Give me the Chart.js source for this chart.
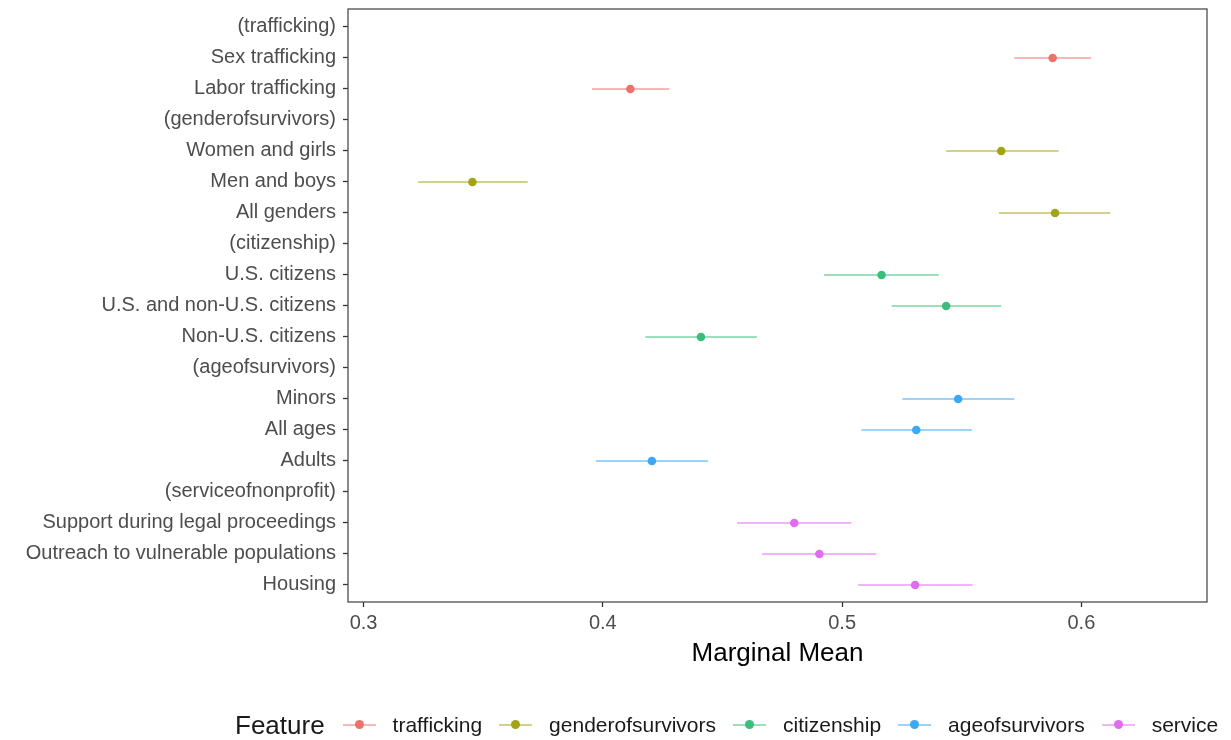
<!DOCTYPE html>
<html>
<head>
<meta charset="utf-8">
<script src="https://cdn.jsdelivr.net/npm/chart.js@4.4.1/dist/chart.umd.min.js"></script>
<style>
  body { margin: 0; background: #fff; }
  #wrap { position: relative; width: 1231px; height: 740px; }
  #legend {
    position: absolute; left: 235px; top: 707px; height: 36px;
    display: flex; align-items: center;
    font-family: "Liberation Sans", Arial, Helvetica, sans-serif; color: #1a1a1a;
  }
  #legend .title { font-size: 26px; margin-right: 18px; }
  #legend .key { position: relative; width: 33px; height: 20px; margin-right: 17px; }
  #legend .key .ln { position: absolute; left: 0; right: 0; top: 9px; height: 2px; opacity: 0.5; }
  #legend .key .dot { position: absolute; left: 12px; top: 5px; width: 9px; height: 9px; border-radius: 50%; }
  #legend .lab { font-size: 21px; margin-right: 17px; }
</style>
</head>
<body>
<div id="wrap">
  <canvas id="chart" width="1231" height="740"></canvas>
  <div id="legend"></div>
</div>
<script>
// Rows from top to bottom (attribute headers in brackets)
const categories = [
  '(trafficking)', 'Sex trafficking', 'Labor trafficking',
  '(genderofsurvivors)', 'Women and girls', 'Men and boys', 'All genders',
  '(citizenship)', 'U.S. citizens', 'U.S. and non-U.S. citizens', 'Non-U.S. citizens',
  '(ageofsurvivors)', 'Minors', 'All ages', 'Adults',
  '(serviceofnonprofit)', 'Support during legal proceedings', 'Outreach to vulnerable populations', 'Housing'
];
const features = ['trafficking', 'genderofsurvivors', 'citizenship', 'ageofsurvivors', 'service'];
const featureOf = [0, 0, 0, 1, 1, 1, 1, 2, 2, 2, 2, 3, 3, 3, 3, 4, 4, 4, 4];
const colors = ['#EE716B', '#A3A313', '#3BBD7B', '#3DA8F3', '#E06CF1'];

// marginal means and confidence bounds (null on header rows)
const estimates = [null, 0.588, 0.4115, null, 0.5665, 0.3455, 0.589, null, 0.5165, 0.5435, 0.441, null, 0.5485, 0.531, 0.4205, null, 0.480, 0.4905, 0.5305];
const lower =     [null, 0.572, 0.3955, null, 0.5435, 0.3228, 0.5655, null, 0.4925, 0.5207, 0.4178, null, 0.5252, 0.5081, 0.3971, null, 0.4561, 0.4665, 0.5067];
const upper =     [null, 0.604, 0.4278, null, 0.5905, 0.3686, 0.6121, null, 0.5404, 0.5665, 0.4644, null, 0.572, 0.5542, 0.4439, null, 0.5038, 0.5143, 0.5546];

const xTicks = [0.3, 0.4, 0.5, 0.6];

function withAlpha(hex, a) {
  const n = parseInt(hex.slice(1), 16);
  return `rgba(${n >> 16}, ${(n >> 8) & 255}, ${n & 255}, ${a})`;
}

// error bar segments, one small dataset per row
const datasets = [];
categories.forEach((c, i) => {
  if (estimates[i] === null) return;
  const col = colors[featureOf[i]];
  datasets.push({
    data: [{ x: lower[i], y: i }, { x: upper[i], y: i }],
    showLine: true,
    borderColor: withAlpha(col, 0.5),
    borderWidth: 2,
    pointRadius: 0,
    pointHoverRadius: 0
  });
});

// points, one dataset per feature
features.forEach((f, k) => {
  const pts = [];
  categories.forEach((c, i) => {
    if (featureOf[i] === k && estimates[i] !== null) pts.push({ x: estimates[i], y: i });
  });
  datasets.push({
    label: f,
    data: pts,
    backgroundColor: colors[k],
    borderColor: colors[k],
    pointRadius: 4.3,
    borderWidth: 0
  });
});

// panel border like ggplot
const frame = {
  id: 'frame',
  afterDraw(chart) {
    const { ctx, chartArea: a } = chart;
    ctx.save();
    ctx.strokeStyle = '#4d4d4d';
    ctx.lineWidth = 1.3;
    ctx.strokeRect(a.left, a.top, a.right - a.left, a.bottom - a.top);
    ctx.restore();
  }
};

const font = "'Liberation Sans', Arial, Helvetica, sans-serif";

new Chart(document.getElementById('chart'), {
  type: 'scatter',
  data: { datasets },
  options: {
    responsive: false,
    animation: false,
    layout: { padding: { left: 0, top: 9, right: 24, bottom: 68 } },
    plugins: { legend: { display: false }, tooltip: { enabled: false } },
    scales: {
      x: {
        type: 'linear',
        min: 0.2935,
        max: 0.6525,
        afterBuildTicks: s => { s.ticks = xTicks.map(v => ({ value: v })); },
        afterFit: s => { s.height = 70; s.paddingLeft = 0; s.paddingRight = 0; },
        grid: { drawOnChartArea: false, drawTicks: true, tickLength: 5, tickColor: '#333', tickWidth: 1.3 },
        border: { display: false },
        ticks: { padding: 4, color: '#4d4d4d', font: { family: font, size: 20 }, callback: v => v.toFixed(1) },
        title: { display: true, text: 'Marginal Mean', color: '#000', font: { family: font, size: 26 }, padding: { top: 0, bottom: 3 } }
      },
      y: {
        type: 'linear',
        reverse: true,
        min: -0.58,
        max: categories.length - 0.45,
        afterBuildTicks: s => { s.ticks = categories.map((c, i) => ({ value: i })); },
        afterFit: s => { s.width = 348; s.paddingTop = 0; s.paddingBottom = 0; },
        grid: { drawOnChartArea: false, drawTicks: true, tickLength: 5, tickColor: '#333', tickWidth: 1.3 },
        border: { display: false },
        ticks: { padding: 7, color: '#4d4d4d', font: { family: font, size: 20 }, callback: v => categories[v] }
      }
    }
  },
  plugins: [frame]
});

// legend below the plot
const leg = document.getElementById('legend');
leg.innerHTML = '<span class="title">Feature</span>' + features.map((f, k) =>
  `<span class="key"><span class="ln" style="background:${colors[k]}"></span><span class="dot" style="background:${colors[k]}"></span></span><span class="lab">${f}</span>`
).join('');
</script>
</body>
</html>
